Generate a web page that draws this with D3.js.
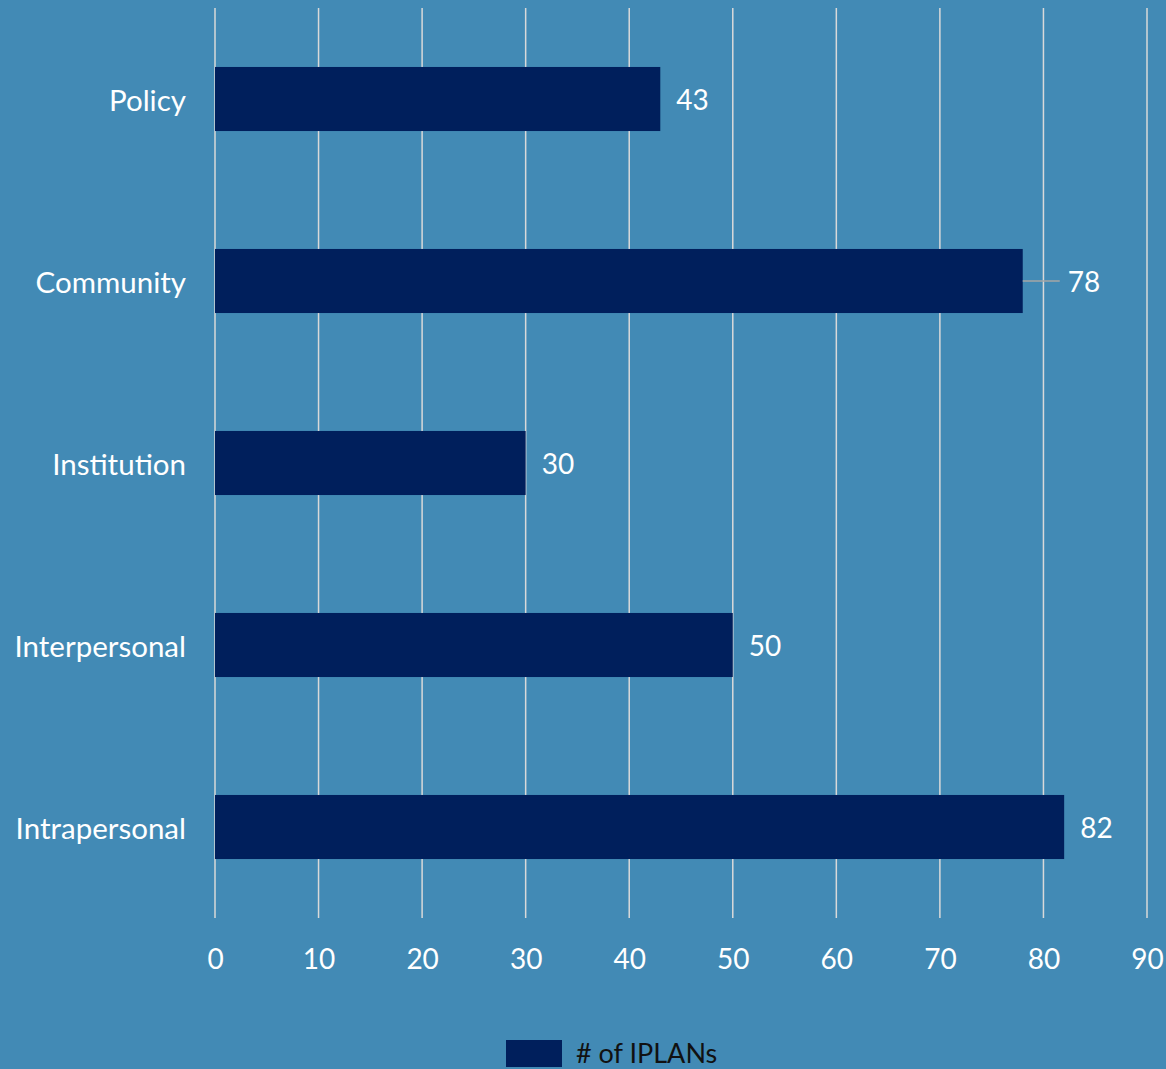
<!DOCTYPE html>
<html>
<head>
<meta charset="utf-8">
<script src="https://cdn.jsdelivr.net/npm/d3@7"></script>
<style>
  html, body { margin: 0; padding: 0; background: #428AB5; }
  svg { display: block; }
  text { font-family: "Lato", "Open Sans", sans-serif; }
</style>
</head>
<body>
<svg id="chart" width="1166" height="1069"></svg>
<script>
// Levels of the socio-ecological model and the count of IPLANs addressing each
const categories = ["Policy", "Community", "Institution", "Interpersonal", "Intrapersonal"];
const values = [43, 78, 30, 50, 82];
const xTicks = [0, 10, 20, 30, 40, 50, 60, 70, 80, 90];
const seriesName = "# of IPLANs";

const W = 1166, H = 1069;
const plot = { left: 215, right: 1147, top: 8, bottom: 918 };

const svg = d3.select("#chart");
svg.append("rect").attr("width", W).attr("height", H).attr("fill", "#428AB5");

const x = d3.scaleLinear().domain([0, 90]).range([plot.left, plot.right]);
const y = d3.scaleBand()
  .domain(categories)
  .range([plot.top, plot.bottom])
  .paddingInner(0.648)
  .paddingOuter(0.324);

// vertical gridlines
svg.append("g")
  .selectAll("line")
  .data(xTicks)
  .join("line")
  .attr("x1", d => x(d)).attr("x2", d => x(d))
  .attr("y1", plot.top).attr("y2", plot.bottom)
  .attr("stroke", "#D9D9D9")
  .attr("stroke-width", 1.5);

// x-axis tick labels
const xAxis = d3.axisBottom(x).tickValues(xTicks).tickSize(0).tickPadding(0);
const gx = svg.append("g")
  .attr("transform", `translate(0, ${plot.bottom + 41})`)
  .call(xAxis);
gx.select(".domain").remove();
gx.selectAll("text")
  .attr("fill", "#FFFFFF")
  .attr("font-size", 28)
  .attr("font-family", "Lato, 'Open Sans', sans-serif")
  .attr("dy", "0.35em")
  .attr("y", 0);

// category labels
const yAxis = d3.axisLeft(y).tickSize(0).tickPadding(0);
const gy = svg.append("g")
  .attr("transform", `translate(${plot.left - 29}, 0)`)
  .call(yAxis);
gy.select(".domain").remove();
gy.selectAll("text")
  .attr("fill", "#FFFFFF")
  .attr("font-size", 29.5)
  .attr("font-family", "Lato, 'Open Sans', sans-serif")
  .attr("dy", "0.4em");

const rows = categories.map((c, i) => ({ cat: c, val: values[i] }));

// bars
svg.append("g")
  .selectAll("rect")
  .data(rows)
  .join("rect")
  .attr("x", x(0))
  .attr("y", d => y(d.cat))
  .attr("width", d => x(d.val) - x(0))
  .attr("height", y.bandwidth())
  .attr("fill", "#001F5C");

// leader line for the Community label
svg.append("line")
  .attr("x1", x(78)).attr("x2", x(78) + 37)
  .attr("y1", y("Community") + y.bandwidth() / 2)
  .attr("y2", y("Community") + y.bandwidth() / 2)
  .attr("stroke", "#A6A6A6")
  .attr("stroke-width", 1.5);

// value labels
svg.append("g")
  .selectAll("text")
  .data(rows)
  .join("text")
  .attr("x", d => x(d.val) + (d.cat === "Community" ? 45 : 16))
  .attr("y", d => y(d.cat) + y.bandwidth() / 2)
  .attr("dy", "0.4em")
  .attr("fill", "#FFFFFF")
  .attr("font-size", 28)
  .text(d => d.val);

// legend
const legend = svg.append("g").attr("transform", "translate(506, 1040)");
legend.append("rect")
  .attr("width", 56).attr("height", 27)
  .attr("fill", "#001F5C");
legend.append("text")
  .attr("x", 70).attr("y", 12)
  .attr("dy", "0.4em")
  .attr("fill", "#111111")
  .attr("font-size", 27)
  .text(seriesName);
</script>
</body>
</html>
